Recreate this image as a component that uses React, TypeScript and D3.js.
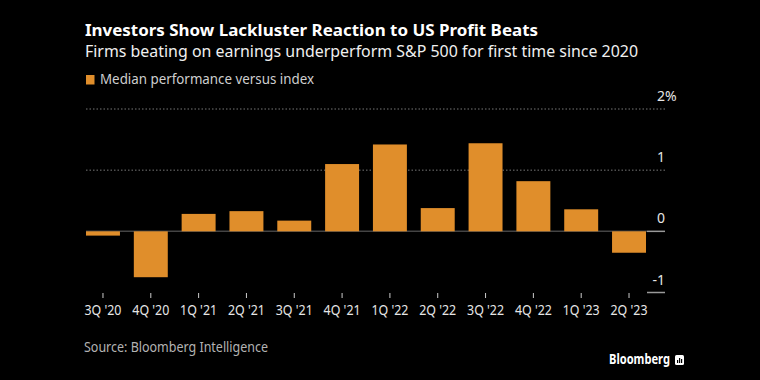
import React from "react";
import * as d3 from "d3";

const categories = ["3Q '20", "4Q '20", "1Q '21", "2Q '21", "3Q '21", "4Q '21", "1Q '22", "2Q '22", "3Q '22", "4Q '22", "1Q '23", "2Q '23"];
const values = [-0.07, -0.75, 0.285, 0.33, 0.175, 1.1, 1.42, 0.38, 1.44, 0.82, 0.36, -0.35];
const yTicks = [2, 1, 0, -1];

const W = 760, H = 380;
const FONT = "'Noto Sans', 'Open Sans', sans-serif";

export default function App() {
  const x = d3.scaleBand<string>().domain(categories).range([86, 646]).paddingInner(0.29).paddingOuter(0.0);
  const y = d3.scaleLinear().domain([-1, 2]).range([292.5, 109]);
  const bw = x.bandwidth();
  return (
    <svg width={W} height={H} style={{ position: "absolute", left: 0, top: 0, background: "#000" }} fontFamily={FONT}>
      <rect x={0} y={0} width={W} height={H} fill="#000" />
      <text x={85} y={35.5} fill="#fff" fontSize={16} fontWeight="bold" textLength={453} lengthAdjust="spacingAndGlyphs">Investors Show Lackluster Reaction to US Profit Beats</text>
      <text x={85} y={56.5} fill="#f0f0f0" fontSize={15.5} textLength={553} lengthAdjust="spacingAndGlyphs">Firms beating on earnings underperform S&amp;P 500 for first time since 2020</text>
      <rect x={86} y={75} width={8.5} height={9.5} fill="#e08e2b" />
      <text x={100} y={84} fill="#cfcfcf" fontSize={14} textLength={214} lengthAdjust="spacingAndGlyphs">Median performance versus index</text>

      {yTicks.filter(t => t > 0).map(t => (
        <line key={"g" + t} x1={86} x2={665} y1={y(t)} y2={y(t)} stroke="#777" strokeWidth={1} strokeDasharray="1.5,2" />
      ))}
      <line x1={86} x2={647} y1={y(0)} y2={y(0)} stroke="#444" strokeWidth={1.5} />
      <line x1={647} x2={665} y1={y(0)} y2={y(0)} stroke="#999" strokeWidth={1.5} />
      <line x1={647} x2={665} y1={y(-1)} y2={y(-1)} stroke="#999" strokeWidth={1.5} />

      {values.map((v, i) => (
        <rect key={i} x={x(categories[i])} width={bw} y={Math.min(y(v), y(0))} height={Math.abs(y(v) - y(0))} fill="#e08e2b" />
      ))}

      {yTicks.map(t => (
        <text key={"l" + t} x={665} y={y(t) - 8} fill="#e6e6e6" fontSize={14} textAnchor="end">{t}</text>
      ))}
      <text x={665} y={y(2) - 8} fill="#e6e6e6" fontSize={14}>%</text>

      {categories.map(c => {
        const cx = (x(c) as number) + bw / 2;
        return (
          <g key={c}>
            <line x1={cx} x2={cx} y1={293} y2={298} stroke="#ccc" strokeWidth={1} />
            <text x={cx} y={315} fill="#e6e6e6" fontSize={14} textAnchor="middle" textLength={37} lengthAdjust="spacingAndGlyphs">{c}</text>
          </g>
        );
      })}

      <text x={84} y={352} fill="#b3b3b3" fontSize={14} textLength={184} lengthAdjust="spacingAndGlyphs">Source: Bloomberg Intelligence</text>
      <text x={609} y={364} fill="#fff" fontSize={13.5} fontWeight="bold" textLength={61} lengthAdjust="spacingAndGlyphs">Bloomberg</text>
      <rect x={675} y={355} width={9} height={10} rx={1.5} fill="#fff" />
      <rect x={677} y={360} width={1.2} height={3} fill="#000" />
      <rect x={679} y={358} width={1.2} height={5} fill="#000" />
      <rect x={681} y={359} width={1.2} height={4} fill="#000" />
    </svg>
  );
}
